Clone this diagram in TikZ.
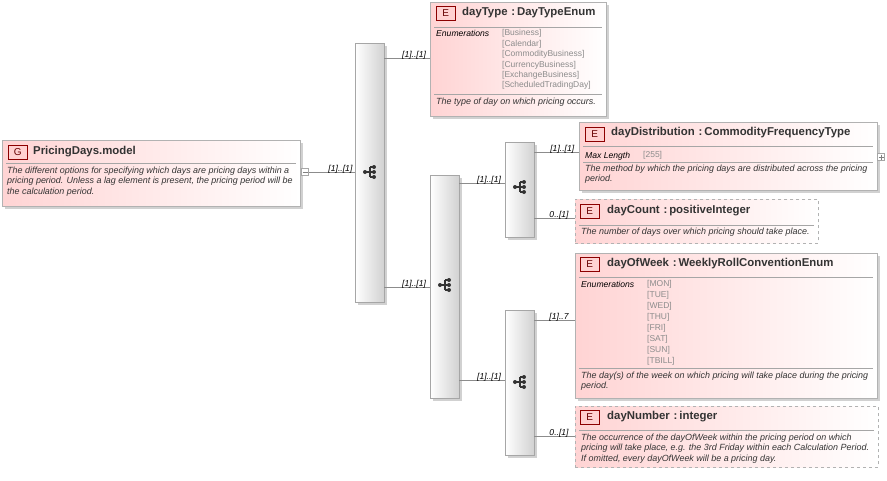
\documentclass[tikz,border=0pt]{standalone}
\usepackage{fontspec}
\setmainfont{Liberation Sans}
\usetikzlibrary{calc}
\begin{document}
\begin{tikzpicture}[x=1pt,y=-1pt,
 elem/.style={draw=black!30,line width=0.8pt,left color=red!17,right color=white,minimum width=#1,anchor=north west,inner sep=0,rectangle},
 opt/.style={dashed,draw=black!30},
 shad/.style={fill=black!18,draw=none,anchor=north west,inner sep=0,rectangle},
 seq/.style={draw=black!35,left color=white,right color=black!18,anchor=north west,inner sep=0,minimum width=29pt,rectangle},
 badge/.style={draw=red!55!black,fill=red!18,text=red!40!black,anchor=north west,minimum width=19pt,minimum height=14pt,inner sep=0,font=\fontsize{10}{10}\selectfont},
 ttl/.style={anchor=west,font=\bfseries\fontsize{11.4}{11.4}\selectfont,inner sep=0,text=black!80},
 desc/.style={anchor=north west,font=\itshape\fontsize{8.95}{10.2}\selectfont,inner sep=0,align=left,text=black!80},
 enum/.style={anchor=north west,font=\fontsize{8.5}{10.4}\selectfont,text=black!45,inner sep=0,align=left},
 lbl/.style={anchor=north west,font=\itshape\fontsize{8.6}{8.6}\selectfont,inner sep=0},
 card/.style={font=\itshape\fontsize{8.6}{8.6}\selectfont,inner sep=0,anchor=south east,text=black},
 sep/.style={black!35,line width=0.6pt},
 con/.style={black!45,line width=0.6pt}]
\useasboundingbox (0,0) rectangle (887,480);
\newcommand{\seqicon}[1]{%
 \fill[black!80] ($(#1)+(-5,0)$) circle (2);
 \draw[black!80,line width=1.2pt] ($(#1)+(-5,0)$) -- ($(#1)+(0,0)$) ($(#1)+(0,-5)$) -- ($(#1)+(0,5)$) ($(#1)+(0,-5)$) -- ($(#1)+(3,-5)$) ($(#1)+(0,0)$) -- ($(#1)+(3,0)$) ($(#1)+(0,5)$) -- ($(#1)+(3,5)$);
 \fill[black!80] ($(#1)+(4,-5)$) circle (2) ($(#1)+(4,0)$) circle (2) ($(#1)+(4,5)$) circle (2);}
% group
\node[shad,minimum width=298pt,minimum height=66pt] at (5,143) {};
\node[elem=298pt,minimum height=66pt] (g) at (2,140) {};
\node[badge] (gb) at (8,145) {G};
\node[ttl] (gt) at (33,152) {PricingDays.model};
\draw[sep] (6,163) -- (296,163);
\node[desc] (gd) at (7,167) {The different options for specifying which days are pricing days within a\\pricing period. Unless a lag element is present, the pricing period will be\\the calculation period.};
\node[draw=black!35,fill=white,minimum size=7pt,inner sep=0] (gm) at (305,172) {};
\draw[black!50] (302.5,172) -- (307.5,172);
% sequences
\node[shad,minimum width=29pt,minimum height=259pt] at (358,46) {};
\node[seq,minimum height=259pt] (s1) at (355,43) {};
\node[shad,minimum width=29pt,minimum height=223pt] at (433,178) {};
\node[seq,minimum height=223pt] (s2) at (430,175) {};
\node[shad,minimum width=29pt,minimum height=95pt] at (508,145) {};
\node[seq,minimum height=95pt] (s3) at (505,142) {};
\node[shad,minimum width=29pt,minimum height=145pt] at (508,313) {};
\node[seq,minimum height=145pt] (s4) at (505,310) {};
\seqicon{370,172}\seqicon{445,285}\seqicon{520,187}\seqicon{520,382}
% dayType
\node[shad,minimum width=176pt,minimum height=114pt] at (433,5) {};
\node[elem=176pt,minimum height=114pt] (dt) at (430,2) {};
\node[badge] at (436,6) {E};
\node[ttl] at (462,13) {dayType\,\,:\,DayTypeEnum};
\draw[sep] (434,27) -- (602,27);
\node[lbl] at (436,30.5) {Enumerations};
\node[enum] at (502,29.5) {[Business]\\{}[Calendar]\\{}[CommodityBusiness]\\{}[CurrencyBusiness]\\{}[ExchangeBusiness]\\{}[ScheduledTradingDay]};
\draw[sep] (434,94) -- (602,94);
\node[desc] at (436,98) {The type of day on which pricing occurs.};
% dayDistribution
\node[shad,minimum width=298pt,minimum height=68pt] at (582,125) {};
\node[elem=298pt,minimum height=68pt] (dd) at (579,122) {};
\node[badge] at (585,127) {E};
\node[ttl] at (611,133) {dayDistribution\,\,:\,CommodityFrequencyType};
\draw[sep] (583,146) -- (873,146);
\node[lbl] at (585,152.5) {Max Length};
\node[enum] at (643,151.5) {[255]};
\draw[sep] (583,162) -- (873,162);
\node[desc] at (585,165) {The method by which the pricing days are distributed across the pricing\\period.};
\node[draw=black!35,fill=white,minimum size=7pt,inner sep=0] (pl) at (881,157) {};
\draw[black!50] (878.5,157) -- (883.5,157) (881,154.5) -- (881,159.5);
% dayCount
\node[elem=243pt,minimum height=44pt,opt] (dc) at (575,199) {};
\node[badge] at (580,204) {E};
\node[ttl] at (607,211) {dayCount\,\,:\,positiveInteger};
\draw[sep] (579,225) -- (814,225);
\node[desc] at (581,228) {The number of days over which pricing should take place.};
% dayOfWeek
\node[shad,minimum width=302pt,minimum height=145pt] at (578,256) {};
\node[elem=302pt,minimum height=145pt] (dw) at (575,253) {};
\node[badge] at (580,257) {E};
\node[ttl] at (607,264) {dayOfWeek\,\,:\,WeeklyRollConventionEnum};
\draw[sep] (579,277) -- (873,277);
\node[lbl] at (581,281.5) {Enumerations};
\node[enum,font=\fontsize{8.5}{10.9}\selectfont] at (647,280.5) {[MON]\\{}[TUE]\\{}[WED]\\{}[THU]\\{}[FRI]\\{}[SAT]\\{}[SUN]\\{}[TBILL]};
\draw[sep] (579,368) -- (873,368);
\node[desc] at (581,372) {The day(s) of the week on which pricing will take place during the pricing\\period.};
% dayNumber
\node[elem=303pt,minimum height=61pt,opt] (dn) at (575,406) {};
\node[badge] at (580,410) {E};
\node[ttl] at (607,417) {dayNumber\,\,:\,integer};
\draw[sep] (579,430) -- (874,430);
\node[desc] at (581,434) {The occurrence of the dayOfWeek within the pricing period on which\\pricing will take place, e.g. the 3rd Friday within each Calculation Period.\\If omitted, every dayOfWeek will be a pricing day.};
% connectors
\draw[con] (gm.east) -- (s1.west |- 0,172) node[card,pos=0.95,yshift=-2pt] {[1]..[1]};
\draw[con] (s1.east |- 0,58) -- (dt.west |- 0,58) node[card,pos=0.92,yshift=-2pt] {[1]..[1]};
\draw[con] (s1.east |- 0,287) -- (s2.west |- 0,287) node[card,pos=0.92,yshift=-2pt] {[1]..[1]};
\draw[con] (s2.east |- 0,183) -- (s3.west |- 0,183) node[card,pos=0.92,yshift=-2pt] {[1]..[1]};
\draw[con] (s2.east |- 0,380) -- (s4.west |- 0,380) node[card,pos=0.92,yshift=-2pt] {[1]..[1]};
\draw[con] (s3.east |- 0,152) -- (dd.west |- 0,152) node[card,pos=0.9,yshift=-2pt] {[1]..[1]};
\draw[con] (s3.east |- 0,218) -- (dc.west |- 0,218) node[card,pos=0.85,yshift=-2pt] {0..[1]};
\draw[con] (s4.east |- 0,320) -- (dw.west |- 0,320) node[card,pos=0.85,yshift=-2pt] {[1]..7};
\draw[con] (s4.east |- 0,436) -- (dn.west |- 0,436) node[card,pos=0.85,yshift=-2pt] {0..[1]};
\end{tikzpicture}
\end{document}
